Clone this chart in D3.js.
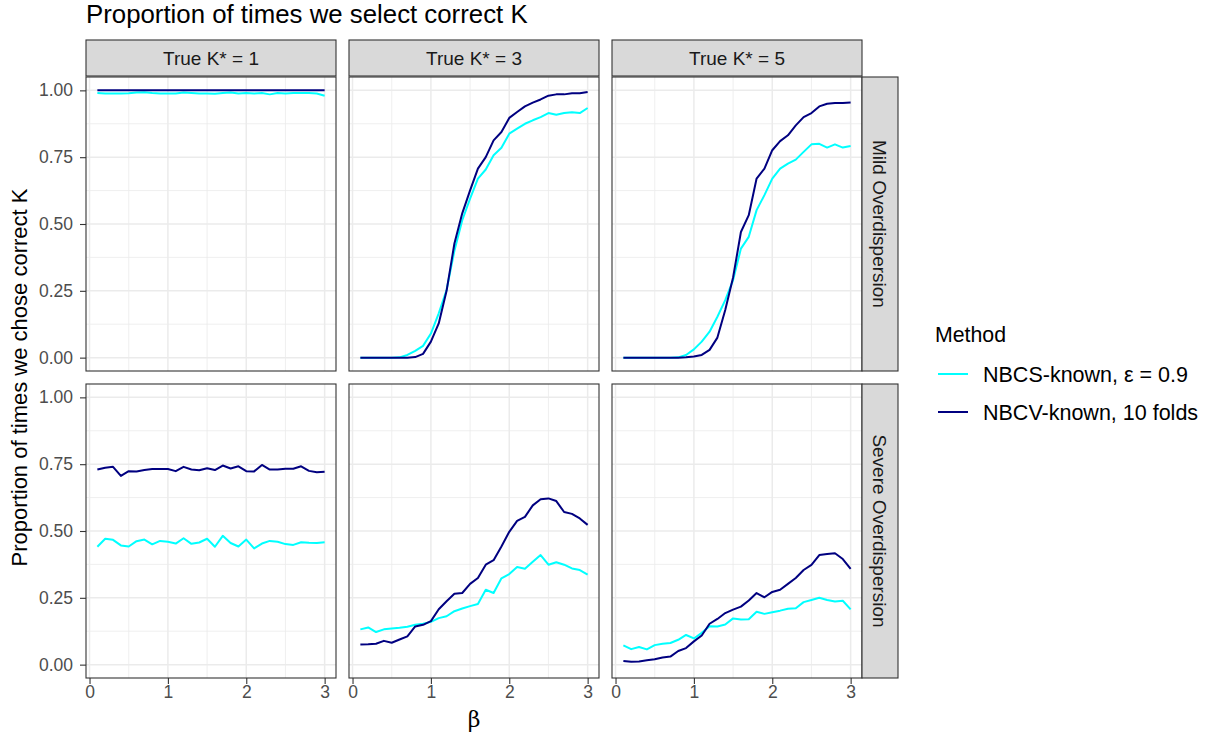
<!DOCTYPE html>
<html>
<head>
<meta charset="utf-8">
<script src="https://cdn.jsdelivr.net/npm/d3@7"></script>
<style>
  html, body { margin: 0; padding: 0; background: #fff; }
  svg { display: block; font-family: "Liberation Sans", Arial, Helvetica, sans-serif; }
</style>
</head>
<body>
<svg id="chart" width="1208" height="733"></svg>
<script>
// Simulation grid of beta values
const beta = d3.range(1, 31).map(i => +(i / 10).toFixed(1));

const columns = ["True K* = 1", "True K* = 3", "True K* = 5"];
const rows = ["Mild Overdispersion", "Severe Overdispersion"];
const methods = ["NBCS-known, ε = 0.9", "NBCV-known, 10 folds"];
const methodColors = ["#00FFFF", "#000080"];

const yTicks = [0, 0.25, 0.5, 0.75, 1];
const yTickLabels = ["0.00", "0.25", "0.50", "0.75", "1.00"];
const xTicks = [0, 1, 2, 3];

// Proportion of correct selections, one array per method / panel
const nbcsMildK1 = [0.990,0.988,0.988,0.988,0.989,0.992,0.993,0.990,0.988,0.988,0.988,0.992,0.990,0.988,0.988,0.987,0.990,0.992,0.988,0.990,0.988,0.990,0.985,0.990,0.988,0.990,0.990,0.990,0.988,0.980];
const nbcvMildK1 = [1,1,1,1,1,1,1,1,1,1,1,1,1,1,1,1,1,1,1,1,1,1,1,1,1,1,1,1,1,1];

const nbcsMildK3 = [0,0,0,0,0,0.001,0.010,0.025,0.044,0.090,0.166,0.253,0.400,0.514,0.595,0.670,0.704,0.757,0.785,0.838,0.857,0.875,0.888,0.900,0.915,0.909,0.915,0.918,0.915,0.934];
const nbcvMildK3 = [0,0,0,0,0,0,0,0.002,0.014,0.060,0.128,0.250,0.427,0.540,0.626,0.707,0.750,0.813,0.844,0.897,0.919,0.940,0.954,0.966,0.980,0.985,0.985,0.989,0.989,0.994];

const nbcsMildK5 = [0,0,0,0,0,0,0,0.001,0.010,0.031,0.060,0.097,0.153,0.215,0.290,0.408,0.452,0.552,0.608,0.670,0.707,0.726,0.741,0.770,0.798,0.800,0.786,0.798,0.786,0.792];
const nbcvMildK5 = [0,0,0,0,0,0,0,0,0.001,0.004,0.010,0.029,0.075,0.178,0.300,0.470,0.533,0.670,0.707,0.776,0.810,0.832,0.869,0.900,0.915,0.940,0.950,0.953,0.953,0.955];

const nbcsSevereK1 = [0.441,0.471,0.467,0.446,0.442,0.462,0.468,0.450,0.463,0.460,0.453,0.473,0.452,0.457,0.471,0.441,0.482,0.455,0.442,0.468,0.435,0.453,0.463,0.460,0.451,0.448,0.458,0.456,0.455,0.458];
const nbcvSevereK1 = [0.730,0.737,0.740,0.706,0.724,0.723,0.728,0.732,0.732,0.732,0.724,0.740,0.730,0.727,0.735,0.728,0.745,0.734,0.742,0.724,0.723,0.747,0.730,0.730,0.733,0.733,0.742,0.725,0.720,0.722];

const nbcsSevereK3 = [0.132,0.139,0.122,0.132,0.135,0.138,0.142,0.149,0.153,0.160,0.174,0.181,0.200,0.210,0.219,0.227,0.280,0.268,0.323,0.339,0.365,0.359,0.385,0.410,0.374,0.383,0.374,0.360,0.354,0.337];
const nbcvSevereK3 = [0.075,0.076,0.078,0.089,0.082,0.094,0.106,0.143,0.149,0.163,0.207,0.237,0.265,0.268,0.302,0.324,0.374,0.391,0.442,0.497,0.538,0.553,0.596,0.619,0.622,0.612,0.571,0.564,0.547,0.523];

const nbcsSevereK5 = [0.072,0.058,0.066,0.057,0.073,0.078,0.081,0.093,0.111,0.098,0.119,0.144,0.143,0.150,0.173,0.169,0.170,0.198,0.190,0.196,0.202,0.209,0.211,0.234,0.242,0.250,0.242,0.236,0.239,0.207];
const nbcvSevereK5 = [0.014,0.011,0.012,0.016,0.020,0.027,0.030,0.051,0.062,0.087,0.109,0.153,0.171,0.193,0.206,0.217,0.240,0.268,0.252,0.272,0.280,0.302,0.324,0.354,0.373,0.410,0.414,0.417,0.395,0.358];

// panels[row][col] = [nbcs, nbcv]
const panels = [
  [[nbcsMildK1, nbcvMildK1], [nbcsMildK3, nbcvMildK3], [nbcsMildK5, nbcvMildK5]],
  [[nbcsSevereK1, nbcvSevereK1], [nbcsSevereK3, nbcvSevereK3], [nbcsSevereK5, nbcvSevereK5]]
];

// ---- layout ----
const panelW = 250, panelH = 294, gap = 13;
const left0 = 86, top0 = 77;
const stripH = 36, stripW = 36;
const textDark = "#1A1A1A", tickText = "#4D4D4D", frame = "#333333";
const tickFont = 17.5, stripFont = 19;

const svg = d3.select("#chart");

const x = d3.scaleLinear().domain([0.1 - 0.145, 3 + 0.145]).range([0, panelW]);
const y = d3.scaleLinear().domain([-0.05, 1.05]).range([panelH, 0]);

const line = d3.line().x((d, i) => x(beta[i])).y(d => y(d));

// Title
svg.append("text")
  .attr("x", left0).attr("y", 23)
  .attr("font-size", 25.8).attr("fill", "#000")
  .text("Proportion of times we select correct K");

rows.forEach((rowName, r) => {
  columns.forEach((colName, c) => {
    const px = left0 + c * (panelW + gap);
    const py = top0 + r * (panelH + gap);
    const g = svg.append("g").attr("transform", `translate(${px},${py})`);

    // panel background and grid
    g.append("rect").attr("width", panelW).attr("height", panelH).attr("fill", "#fff");
    const minorY = [0.125, 0.375, 0.625, 0.875];
    const minorX = [0.5, 1.5, 2.5];
    g.selectAll(".minY").data(minorY).enter().append("line")
      .attr("x1", 0).attr("x2", panelW).attr("y1", d => y(d)).attr("y2", d => y(d))
      .attr("stroke", "#EBEBEB").attr("stroke-width", 0.8);
    g.selectAll(".minX").data(minorX).enter().append("line")
      .attr("y1", 0).attr("y2", panelH).attr("x1", d => x(d)).attr("x2", d => x(d))
      .attr("stroke", "#EBEBEB").attr("stroke-width", 0.8);
    g.selectAll(".majY").data(yTicks).enter().append("line")
      .attr("x1", 0).attr("x2", panelW).attr("y1", d => y(d)).attr("y2", d => y(d))
      .attr("stroke", "#EBEBEB").attr("stroke-width", 1.5);
    g.selectAll(".majX").data(xTicks).enter().append("line")
      .attr("y1", 0).attr("y2", panelH).attr("x1", d => x(d)).attr("x2", d => x(d))
      .attr("stroke", "#EBEBEB").attr("stroke-width", 1.5);

    // series
    panels[r][c].forEach((vals, m) => {
      g.append("path").datum(vals)
        .attr("d", line)
        .attr("fill", "none")
        .attr("stroke", methodColors[m])
        .attr("stroke-width", 2)
        .attr("stroke-linejoin", "round");
    });

    // frame
    g.append("rect").attr("width", panelW).attr("height", panelH)
      .attr("fill", "none").attr("stroke", frame).attr("stroke-width", 1.1);

    // left axis
    if (c === 0) {
      const ax = d3.axisLeft(y).tickValues(yTicks)
        .tickFormat((d, i) => yTickLabels[i]).tickSize(6).tickPadding(7);
      const ga = g.append("g").call(ax);
      ga.select(".domain").remove();
      ga.selectAll(".tick line").attr("stroke", frame).attr("stroke-width", 1.1);
      ga.selectAll(".tick text").attr("fill", tickText).attr("font-size", tickFont)
        .attr("font-family", "Liberation Sans, Arial, sans-serif");
    }
    // bottom axis
    if (r === rows.length - 1) {
      const ax = d3.axisBottom(x).tickValues(xTicks).tickFormat(d3.format("d"))
        .tickSize(6).tickPadding(2);
      const ga = g.append("g").attr("transform", `translate(0,${panelH})`).call(ax);
      ga.select(".domain").remove();
      ga.selectAll(".tick line").attr("stroke", frame).attr("stroke-width", 1.1);
      ga.selectAll(".tick text").attr("fill", tickText).attr("font-size", tickFont)
        .attr("font-family", "Liberation Sans, Arial, sans-serif");
    }

    // column strips
    if (r === 0) {
      const s = svg.append("g").attr("transform", `translate(${px},${top0 - stripH - 1})`);
      s.append("rect").attr("width", panelW).attr("height", stripH)
        .attr("fill", "#D9D9D9").attr("stroke", frame).attr("stroke-width", 1.1);
      s.append("text").attr("x", panelW / 2).attr("y", stripH / 2 + 7)
        .attr("text-anchor", "middle")
        .attr("font-size", stripFont).attr("fill", textDark).text(colName);
    }
    // row strips
    if (c === columns.length - 1) {
      const s = svg.append("g").attr("transform", `translate(${px + panelW},${py})`);
      s.append("rect").attr("width", stripW).attr("height", panelH)
        .attr("fill", "#D9D9D9").attr("stroke", frame).attr("stroke-width", 1.1);
      s.append("text")
        .attr("transform", `translate(${stripW / 2 - 7},${panelH / 2}) rotate(90)`)
        .attr("text-anchor", "middle")
        .attr("font-size", stripFont).attr("fill", textDark).text(rowName);
    }
  });
});

// axis titles
const plotRight = left0 + 3 * panelW + 2 * gap;
svg.append("text")
  .attr("x", (left0 + plotRight) / 2).attr("y", 727)
  .attr("text-anchor", "middle").attr("font-size", 22).attr("fill", "#000")
  .attr("font-family", "DejaVu Serif, serif")
  .text("β");
svg.append("text")
  .attr("transform", `translate(27,${top0 + panelH + gap / 2}) rotate(-90)`)
  .attr("text-anchor", "middle").attr("font-size", 22).attr("fill", "#000")
  .text("Proportion of times we chose correct K");

// legend
const lg = svg.append("g").attr("transform", "translate(935,0)");
lg.append("text").attr("x", 0).attr("y", 342).attr("font-size", 21.3).attr("fill", "#000").text("Method");
methods.forEach((name, i) => {
  const yy = 374 + i * 38;
  lg.append("line").attr("x1", 3).attr("x2", 33).attr("y1", yy).attr("y2", yy)
    .attr("stroke", methodColors[i]).attr("stroke-width", 2);
  lg.append("text").attr("x", 48).attr("y", yy + 7.5)
    .attr("font-size", 21.5).attr("fill", "#000").text(name);
});
</script>
</body>
</html>
